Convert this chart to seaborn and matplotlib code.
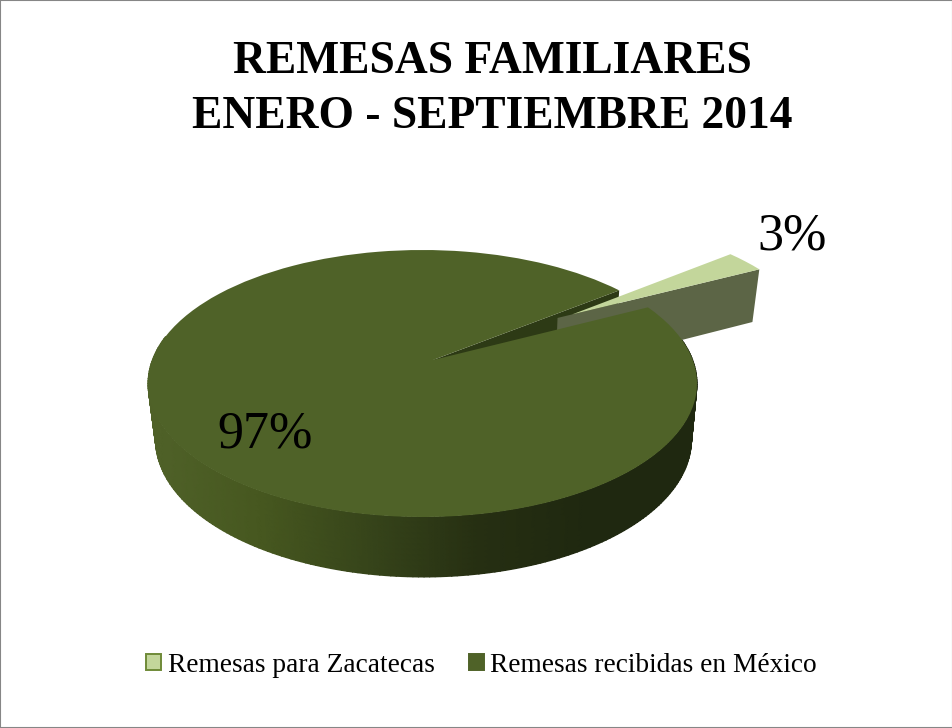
import numpy as np
import matplotlib
matplotlib.use("Agg")
import matplotlib.pyplot as plt
import seaborn as sns
from matplotlib.patches import Patch, Rectangle
from matplotlib.transforms import Transform, Affine2D

labels = ["Remesas para Zacatecas", "Remesas recibidas en México"]
values = [3, 97]
title_lines = ["REMESAS FAMILIARES", "ENERO - SEPTIEMBRE 2014"]

TOP_COLORS = ["#c3d69b", "#4f6228"]
SLICE_SIDE = "#5c6546"
WALL = "#2d3a15"
RIM = ["#4f6128", "#46571f", "#36441a", "#262f12", "#1f2810", "#1f2810"]
SERIF = "Liberation Serif"
START = 27.4
EXPLODE = 0.65
SLICE_SHIFT = (3, -4)

sns.set_theme(style="white")
plt.rcParams["font.family"] = [SERIF, "DejaVu Serif"]


def project(x, y, t=0.0):
    """Unit pie plane -> pixel position; t is the depth (0 top face, 1 base)."""
    x, y = np.asarray(x, float), np.asarray(y, float)
    a, b = 0.176, 0.038
    d = 1 + a * y
    x1, y1 = x * np.sqrt(1 - a * a) / d, (y + a) / d
    d = 1 + b * x1
    u, v = (x1 + b) / d, y1 * np.sqrt(1 - b * b) / d
    cx = 422.5 + t * 1.0
    cy = 383.5 + t * (439.5 - 383.5)
    rx = 274.5 + t * (268 - 274.5)
    ry = 133.5 + t * (137.5 - 133.5)
    return cx + u * rx, cy - v * ry


class PieProjection(Transform):
    input_dims = 2
    output_dims = 2
    is_affine = False
    has_inverse = False

    def transform_non_affine(self, values):
        values = np.asarray(values, float)
        px, py = project(values[:, 0], values[:, 1])
        return np.column_stack([px, py])


fig = plt.figure(figsize=(9.53, 7.28), dpi=100)
ax = fig.add_axes([0, 0, 1, 1])

sweep = np.array(values) / sum(values) * 360
a1 = np.radians(START)
a2 = np.radians(START + sweep[0])
mid = (a1 + a2) / 2
dx, dy = EXPLODE * np.cos(mid), EXPLODE * np.sin(mid)

# main rim with its horizontal shading
theta = np.radians(np.linspace(170, 360 + START, 220))
depth = np.linspace(0, 1, 12)
T, D = np.meshgrid(theta, depth)
X, Y = project(np.cos(T), np.sin(T), D)
rim_cmap = sns.blend_palette(RIM, as_cmap=True)
ax.pcolormesh(X, Y, X, cmap=rim_cmap, shading="gouraud", vmin=155, vmax=697, zorder=1)

# cut wall seen through the notch of the big slice
wx = [0, np.cos(a2), np.cos(a2), 0]
wy = [0, np.sin(a2), np.sin(a2), 0]
wt = [0, 0, 1, 1]
px, py = zip(*[project(a, b, c) for a, b, c in zip(wx, wy, wt)])
ax.fill(px, py, color=WALL, lw=0, zorder=2)

# side of the pulled-out slice, starting slightly behind its tip
back = -0.07
sx = [dx + back * np.cos(a1), dx + np.cos(a1), dx + np.cos(a1), dx + back * np.cos(a1)]
sy = [dy + back * np.sin(a1), dy + np.sin(a1), dy + np.sin(a1), dy + back * np.sin(a1)]
px, py = zip(*[project(a, b, c) for a, b, c in zip(sx, sy, wt)])
ax.fill(np.array(px) + SLICE_SHIFT[0], np.array(py) + SLICE_SHIFT[1], color=SLICE_SIDE, lw=0, zorder=3)

wedges, _ = ax.pie(values, colors=TOP_COLORS, startangle=START, counterclock=True,
                   explode=[EXPLODE, 0], wedgeprops={"linewidth": 0})
projection = PieProjection() + ax.transData
wedges[0].set_transform(PieProjection() + Affine2D().translate(*SLICE_SHIFT) + ax.transData)
wedges[1].set_transform(projection)
for w, z in zip(wedges, (4, 5)):
    w.set_zorder(z)
    w.set_clip_on(False)

ax.set_aspect("auto")
ax.set_xlim(0, 953)
ax.set_ylim(728, 0)
ax.axis("off")

ax.text(792, 250, f"{values[0]}%", fontsize=37.5, ha="center", va="baseline", color="black", zorder=6)
ax.text(265, 447, f"{values[1]}%", fontsize=37.5, ha="center", va="baseline", color="black", zorder=6)

ax.text(492, 73, title_lines[0], fontsize=32.8, fontweight="bold", ha="center", va="baseline", color="black")
ax.text(492.5, 128, title_lines[1], fontsize=32.8, fontweight="bold", ha="center", va="baseline", color="black")

handles = [Patch(facecolor=TOP_COLORS[0], edgecolor="#6f8a38", linewidth=1.4),
           Patch(facecolor=TOP_COLORS[1], edgecolor="#4f6228", linewidth=1.4)]
fig.legend(handles, labels, loc="center", bbox_to_anchor=(481.5 / 953, 1 - 665 / 728), ncol=2,
           frameon=False, fontsize=19.7, handlelength=0.54, handleheight=0.54, handletextpad=0.25,
           columnspacing=1.25, labelcolor="black")

fig.add_artist(Rectangle((0, 0), 1, 1, transform=fig.transFigure, fill=False, edgecolor="#868686", linewidth=1.5))
fig.savefig("out.png", dpi=100)
